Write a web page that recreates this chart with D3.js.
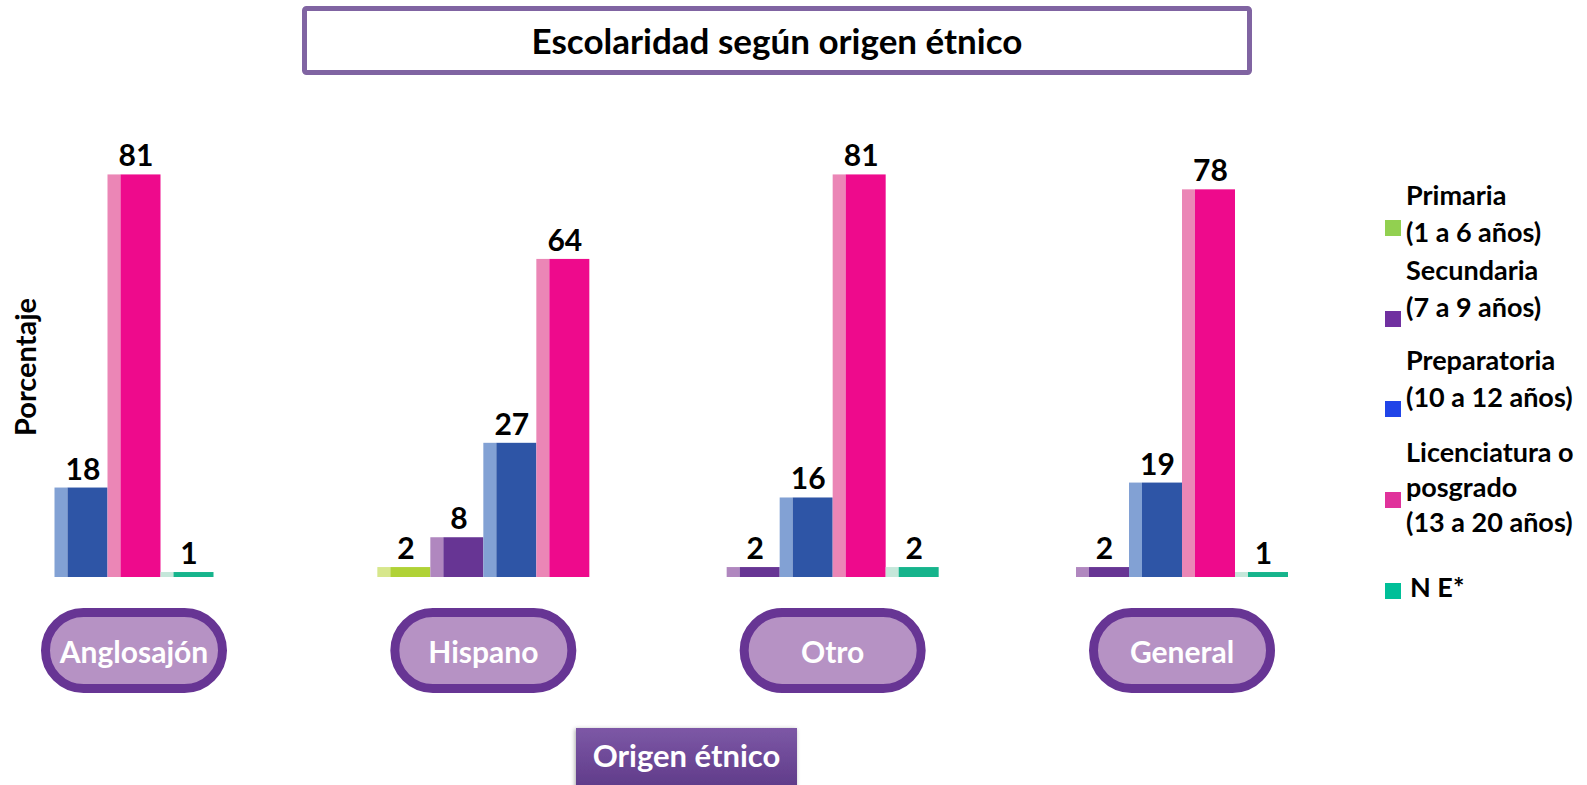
<!DOCTYPE html>
<html>
<head>
<meta charset="utf-8">
<script src="https://cdn.jsdelivr.net/npm/d3@7"></script>
<style>
  body{margin:0;background:#fff;}
  svg{display:block;font-family:Lato,"Open Sans",sans-serif;font-weight:bold;}
</style>
</head>
<body>
<svg id="chart" width="1587" height="785"></svg>
<script>
// data
const groups=["Anglosajón","Hispano","Otro","General"];
const levels=["Primaria","Secundaria","Preparatoria","Licenciatura","NE"];
const legendLabels=[
  ["Primaria","(1 a 6 años)"],
  ["Secundaria","(7 a 9 años)"],
  ["Preparatoria","(10 a 12 años)"],
  ["Licenciatura o","posgrado","(13 a 20 años)"],
  ["N E*"]
];
const primaria=[null,2,null,null];
const secundaria=[null,8,2,2];
const preparatoria=[18,27,16,19];
const licenciatura=[81,64,81,78];
const noEspecificado=[1,null,2,1];

const seriesValues=[primaria,secundaria,preparatoria,licenciatura,noEspecificado];
const darkColors=["#b0d236","#673594","#2e55a6","#ee0a8c","#16b48c"];
const lightColors=["#d7e78c","#b087bf","#82a1d4","#eb86b6","#c5e7da"];
const legendColors=["#92d050","#7030a0","#2044e8","#e0329b","#00bf98"];

const svg=d3.select("#chart");
const baseY=577,slotW=53,sideW=13;

const x=d3.scalePoint().domain(groups).range([134,1182]);
const y=d3.scaleLinear().domain([0,100]).range([baseY,80]);

// title box
svg.append("rect")
  .attr("x",304.5).attr("y",8.5).attr("width",945).attr("height",64).attr("rx",2)
  .attr("fill","#fff").attr("stroke","#8064a2").attr("stroke-width",5);
svg.append("text")
  .attr("x",777).attr("y",54).attr("text-anchor","middle")
  .attr("font-size","35px").attr("fill","#000")
  .text("Escolaridad según origen étnico");

// y label
svg.append("text")
  .attr("transform","translate(36,367) rotate(-90)")
  .attr("text-anchor","middle").attr("font-size","29px").attr("fill","#000")
  .text("Porcentaje");

// bars
groups.forEach((g,gi)=>{
  const present=levels.map((l,li)=>({level:l,li,value:seriesValues[li][gi]}))
    .filter(d=>d.value!=null);
  const inner=d3.scaleBand().domain(present.map(d=>d.level))
    .range([-present.length*slotW/2,present.length*slotW/2]);
  const grp=svg.append("g").attr("transform",`translate(${x(g)},0)`);

  const bar=grp.selectAll(".bar").data(present).join("g").attr("class","bar");
  bar.append("rect")
    .attr("x",d=>inner(d.level))
    .attr("y",d=>y(d.value))
    .attr("width",sideW)
    .attr("height",d=>baseY-y(d.value))
    .attr("fill",d=>lightColors[d.li]);
  bar.append("rect")
    .attr("x",d=>inner(d.level)+sideW)
    .attr("y",d=>y(d.value))
    .attr("width",inner.bandwidth()-sideW)
    .attr("height",d=>baseY-y(d.value))
    .attr("fill",d=>darkColors[d.li]);
  bar.append("text")
    .attr("x",d=>inner(d.level)+inner.bandwidth()/2+2)
    .attr("y",d=>y(d.value)-8)
    .attr("text-anchor","middle")
    .attr("font-size","30px").attr("fill","#000")
    .text(d=>d.value);

  // category pill
  const pw=186,ph=76;
  grp.append("rect")
    .attr("x",-pw/2+4.5).attr("y",612.5).attr("width",pw-9).attr("height",ph)
    .attr("rx",ph/2)
    .attr("fill","#b692c4").attr("stroke","#673594").attr("stroke-width",9);
  grp.append("text")
    .attr("x",0).attr("y",663).attr("text-anchor","middle")
    .attr("font-size","30px").attr("fill","#fff")
    .text(g);
});

// legend
const legendFirstBase=[205,280,370,462,597];
const legendSquareY=[220,311,401,492,583];
const leg=svg.append("g");
legendLabels.forEach((lines,i)=>{
  leg.append("rect")
    .attr("x",1385).attr("y",legendSquareY[i]).attr("width",16).attr("height",16)
    .attr("fill",legendColors[i]);
  const tx=i===4?1410:1406;
  const t=leg.append("text")
    .attr("x",tx).attr("y",legendFirstBase[i])
    .attr("font-size","27px").attr("fill","#000");
  lines.forEach((s,k)=>{
    t.append("tspan").attr("x",tx)
      .attr("dy",k===0?0:(i===3?35:37)).text(s);
  });
});

// x axis title box
const defs=svg.append("defs");
const grad=defs.append("linearGradient").attr("id","xg").attr("x1",0).attr("y1",0).attr("x2",0).attr("y2",1);
grad.append("stop").attr("offset","0%").attr("stop-color","#7d58a6");
grad.append("stop").attr("offset","100%").attr("stop-color","#5e3a88");
const sh=defs.append("filter").attr("id","sh").attr("x","-10%").attr("y","-10%").attr("width","120%").attr("height","130%");
sh.append("feDropShadow").attr("dx",-1).attr("dy",1).attr("stdDeviation",2).attr("flood-color","#000").attr("flood-opacity",0.35);
svg.append("rect")
  .attr("x",576).attr("y",728).attr("width",221).attr("height",62)
  .attr("fill","url(#xg)").attr("filter","url(#sh)");
svg.append("text")
  .attr("x",686.5).attr("y",767).attr("text-anchor","middle")
  .attr("font-size","31px").attr("fill","#fff")
  .text("Origen étnico");
</script>
</body>
</html>
